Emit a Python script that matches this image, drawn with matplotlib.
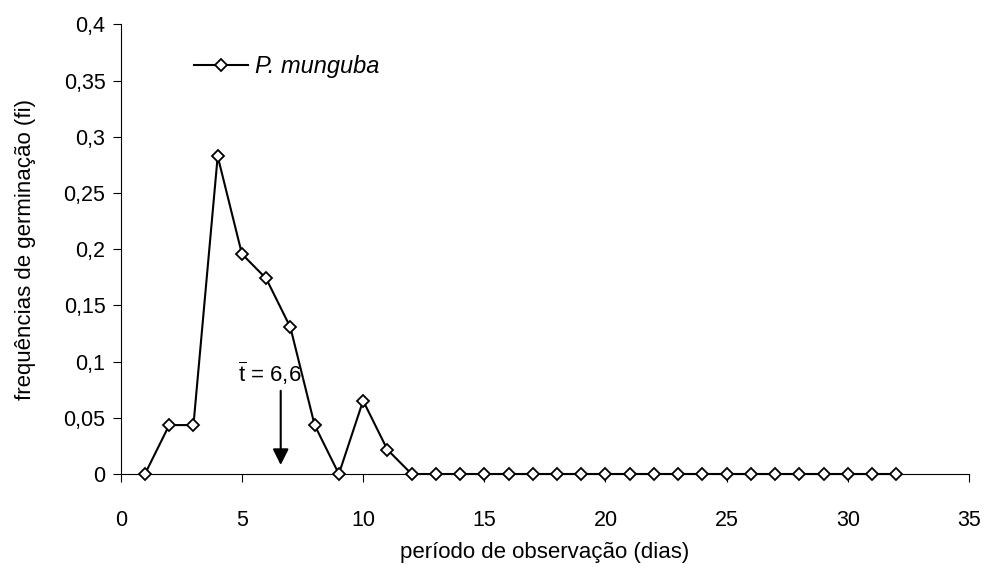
import matplotlib
matplotlib.use("Agg")
import matplotlib.pyplot as plt
from matplotlib.ticker import FuncFormatter

plt.rcParams['font.family'] = ['Liberation Sans', 'DejaVu Sans']
plt.rcParams['mathtext.fontset'] = 'custom'
plt.rcParams['mathtext.rm'] = 'Liberation Sans'
plt.rcParams['mathtext.it'] = 'Liberation Sans:italic'

# Germination frequency per observation day
days = list(range(1, 33))
freq = [0, 0.0435, 0.0435, 0.2826, 0.1957, 0.1739, 0.1304, 0.0435, 0, 0.0652, 0.0217,
        0, 0, 0, 0, 0, 0, 0, 0, 0, 0, 0, 0, 0, 0, 0, 0, 0, 0, 0, 0, 0]
series_name = "P. munguba"
mean_t = 6.6

x_ticks = [0, 5, 10, 15, 20, 25, 30, 35]
y_ticks = [0, 0.05, 0.1, 0.15, 0.2, 0.25, 0.3, 0.35, 0.4]

fig = plt.figure(figsize=(10.07, 5.76), dpi=100)
ax = fig.add_axes([0.1199, 0.1771, 0.8424, 0.7807])

line, = ax.plot(days, freq, color='black', lw=1.5, marker='D', markersize=6.5,
                markerfacecolor='white', markeredgecolor='black', markeredgewidth=1.3,
                clip_on=False, zorder=5, label=series_name)

ax.set_xlim(0, 35)
ax.set_ylim(0, 0.4)
ax.set_xticks(x_ticks)
ax.set_yticks(y_ticks)


def comma_fmt(v, pos=None):
    s = f"{v:.2f}".rstrip('0').rstrip('.')
    return s.replace('.', ',')


ax.yaxis.set_major_formatter(FuncFormatter(comma_fmt))
ax.xaxis.set_major_formatter(FuncFormatter(lambda v, p: f"{v:g}"))

for side in ('top', 'right'):
    ax.spines[side].set_visible(False)
for side in ('left', 'bottom'):
    ax.spines[side].set_linewidth(0.8)
    ax.spines[side].set_color('black')

ax.tick_params(axis='y', direction='out', length=6, width=0.8, pad=5, labelsize=15.5)
ax.tick_params(axis='x', direction='out', length=6, width=0.8, pad=20, labelsize=15.5)

ax.set_xlabel("período de observação (dias)", fontsize=16, labelpad=8)
ax.set_ylabel("frequências de germinação (fi)", fontsize=16, labelpad=20)

# Mean germination time marker
ax.annotate('', xy=(mean_t, 0.008), xytext=(mean_t, 0.074),
            arrowprops=dict(arrowstyle='-|>', color='black', lw=1.5,
                            mutation_scale=24, shrinkA=0, shrinkB=0))
ax.text(mean_t - 0.45, 0.082,
        r'$\overline{\mathrm{t}}$' + ' = ' + f"{mean_t:.1f}".replace('.', ','),
        ha='center', va='baseline', fontsize=16)

leg = ax.legend(handles=[line], loc='center left',
                bbox_to_anchor=(194 / 1007, 1 - 67 / 576),
                bbox_transform=fig.transFigure, frameon=False,
                borderpad=0, borderaxespad=0, handlelength=2.3, handletextpad=0.3,
                prop={'size': 17, 'style': 'italic'})

fig.savefig('out.png', dpi=100)
